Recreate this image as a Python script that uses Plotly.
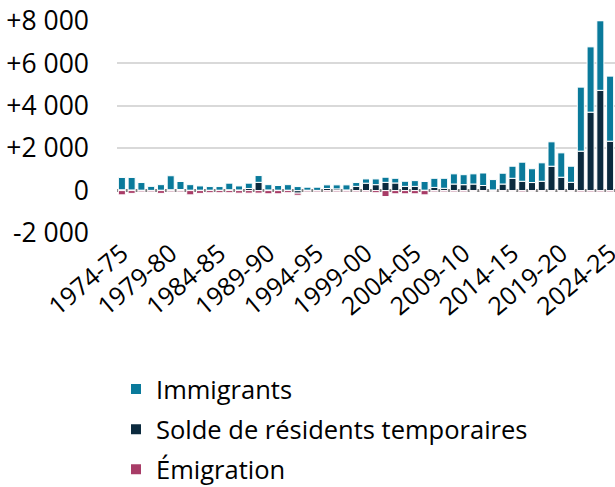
import plotly.graph_objects as go

years = [f"{y}-{str(y + 1)[-2:]}" for y in range(1974, 2025)]

# Total positive height (immigrants + positive temporary residents)
totals = [620, 620, 380, 200, 280, 700, 430, 280, 220, 190,
          190, 350, 220, 350, 710, 280, 240, 280, 190, 160,
          160, 270, 270, 270, 380, 550, 550, 630, 580, 440,
          470, 430, 580, 580, 790, 750, 790, 830, 520, 820,
          1150, 1340, 1030, 1310, 2300, 1780, 1150, 4880, 6780, 8010,
          5400]
temporaires = [40, 30, 20, 10, 20, 40, 50, 20, 20, 20,
               20, 40, 30, 100, 390, 30, 20, 20, -120, 20,
               10, 100, 80, 30, 200, 350, 280, 390, 360, 200,
               200, 20, 150, 110, 310, 280, 310, 240, 30, 310,
               580, 440, 380, 440, 1150, 630, 390, 1860, 3700, 4730,
               2330]
emigration = [-200, -130, -60, -60, -130, -60, -60, -200, -130, -100,
              -100, -100, -120, -120, -120, -150, -150, -100, -100, -60,
              -60, -60, -60, -60, -60, -60, -100, -280, -150, -150,
              -150, -200, -60, -60, -60, -60, -40, -40, -40, -40,
              -40, -60, -40, -40, -40, -40, -40, -60, -60, -60,
              -60]
immigrants = [t - max(tr, 0) for t, tr in zip(totals, temporaires)]

tick_years = years[::5]
y_ticks = [-2000, 0, 2000, 4000, 6000, 8000]
y_ticktext = ["-2 000", "0", "+2 000", "+4 000", "+6 000", "+8 000"]

FONT = "Open Sans"
fig = go.Figure()
fig.add_trace(go.Bar(x=years, y=temporaires, name="Solde de résidents temporaires",
                     marker=dict(color="#0B2A3E", line=dict(color="white", width=1)),
                     legendrank=2, legendgroup="t", cliponaxis=False))
fig.add_trace(go.Bar(x=years, y=immigrants, name="Immigrants",
                     marker=dict(color="#0A7A9B", line=dict(color="white", width=1)),
                     legendrank=1, legendgroup="i", cliponaxis=False))
fig.add_trace(go.Bar(x=years, y=emigration, name="Émigration",
                     marker=dict(color="#A83C67", line=dict(color="white", width=1)),
                     legendrank=3, legendgroup="e", cliponaxis=False))

fig.update_layout(
    width=615, height=487,
    barmode="relative", bargap=0.28,
    plot_bgcolor="white", paper_bgcolor="white",
    margin=dict(l=117, r=0, t=21, b=254, autoexpand=False),
    font=dict(family=FONT, size=25, color="black"),
    showlegend=True,
    legend=dict(orientation="v", x=-0.002, xanchor="left", y=-0.627, yanchor="top",
                traceorder="grouped", font=dict(size=25.5), tracegroupgap=4,
                itemsizing="constant"),
    xaxis=dict(type="category", tickmode="array", tickvals=tick_years, ticktext=tick_years,
               tickangle=-40, showgrid=False, showline=False, ticks="",
               tickfont=dict(size=25), automargin=False),
    yaxis=dict(range=[-2000, 8000], tickmode="array", tickvals=y_ticks, ticktext=y_ticktext,
               showgrid=True, gridcolor="#D9D9D9", gridwidth=1.5,
               zeroline=True, zerolinecolor="#7F7F7F", zerolinewidth=3,
               ticks="", ticklabelstandoff=27, tickfont=dict(size=26.5), automargin=False),
)

fig.write_html("out.html", config={"displayModeBar": False},
               post_script="document.body.style.margin='0';document.body.style.overflow='hidden';")
